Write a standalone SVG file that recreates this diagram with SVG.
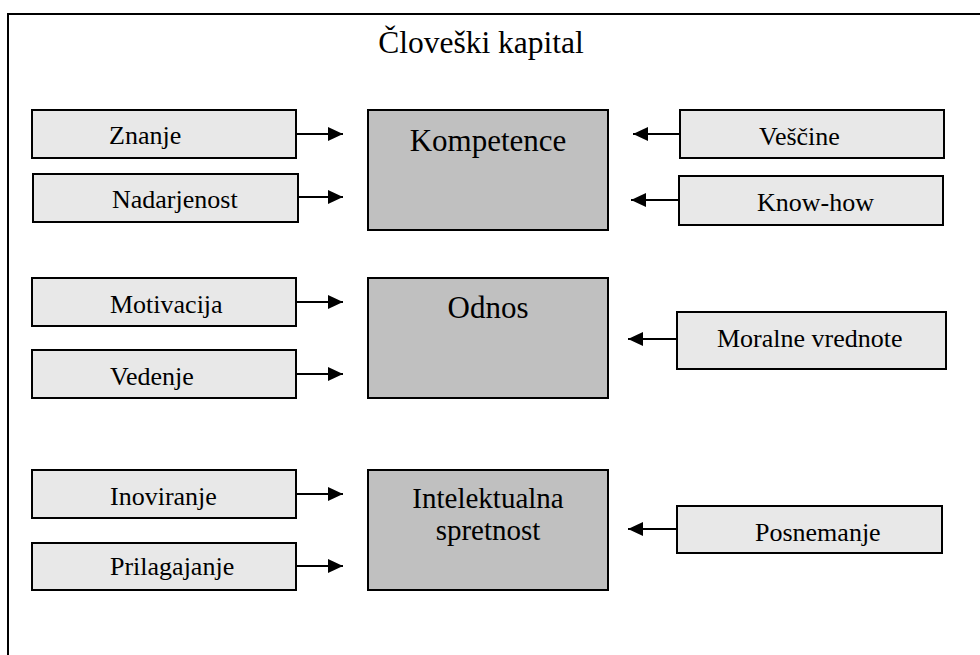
<svg xmlns="http://www.w3.org/2000/svg" width="980" height="655" viewBox="0 0 980 655" font-family="'Liberation Serif', 'Times New Roman', 'DejaVu Serif', serif">
  <defs>
    <style>
      .frame { fill: none; stroke: #000; stroke-width: 2; }
      .item rect { fill: #e8e8e8; stroke: #000; stroke-width: 2; }
      .core rect { fill: #c0c0c0; stroke: #000; stroke-width: 2; }
      text { font-family: 'Liberation Serif', 'Times New Roman', 'DejaVu Serif', serif; fill: #000; }
      .item text { font-size: 26px; }
      .core text { font-size: 31px; text-anchor: middle; }
      .title { font-size: 31.5px; text-anchor: middle; }
      .conn line { stroke: #000; stroke-width: 2; }
    </style>
    <marker id="head" markerWidth="15" markerHeight="14" refX="15" refY="7" orient="auto" markerUnits="userSpaceOnUse">
      <path d="M0,0 L15,7 L0,14 Z" fill="#000"/>
    </marker>
  </defs>

  <rect width="980" height="655" fill="#fff"/>

  <!-- outer frame (open on the right and bottom) -->
  <path class="frame" d="M8,655 V14 H980"/>

  <text class="title" x="481" y="53">Človeški kapital</text>

  <!-- left inputs -->
  <g id="znanje" class="item"><rect x="32" y="110" width="264" height="48"/><text x="109" y="144">Znanje</text></g>
  <g id="nadarjenost" class="item"><rect x="33" y="174" width="265" height="48"/><text x="112" y="208">Nadarjenost</text></g>
  <g id="motivacija" class="item"><rect x="32" y="278" width="264" height="48"/><text x="110" y="313">Motivacija</text></g>
  <g id="vedenje" class="item"><rect x="32" y="350" width="264" height="48"/><text x="110" y="385">Vedenje</text></g>
  <g id="inoviranje" class="item"><rect x="32" y="470" width="264" height="48"/><text x="110" y="505">Inoviranje</text></g>
  <g id="prilagajanje" class="item"><rect x="32" y="543" width="264" height="47"/><text x="110" y="575">Prilagajanje</text></g>

  <!-- central categories -->
  <g id="kompetence" class="core"><rect x="368" y="110" width="240" height="120"/><text x="488" y="151">Kompetence</text></g>
  <g id="odnos" class="core"><rect x="368" y="278" width="240" height="120"/><text x="488" y="318">Odnos</text></g>
  <g id="intelektualna" class="core"><rect x="368" y="470" width="240" height="120"/>
    <text x="488" y="508" style="font-size:29px">Intelektualna</text>
    <text x="488" y="540" style="font-size:29px">spretnost</text>
  </g>

  <!-- right inputs -->
  <g id="vescine" class="item"><rect x="680" y="110" width="264" height="48"/><text x="759" y="145">Veščine</text></g>
  <g id="knowhow" class="item"><rect x="679" y="176" width="264" height="49"/><text x="757" y="211">Know-how</text></g>
  <g id="moralne" class="item"><rect x="677" y="312" width="269" height="57"/><text x="717" y="347">Moralne vrednote</text></g>
  <g id="posnemanje" class="item"><rect x="677" y="506" width="265" height="47"/><text x="755" y="541">Posnemanje</text></g>

  <!-- connectors -->
  <g id="connectors" class="conn">
    <line x1="296" y1="134" x2="343" y2="134" marker-end="url(#head)"/>
    <line x1="298" y1="197" x2="343" y2="197" marker-end="url(#head)"/>
    <line x1="296" y1="302" x2="343" y2="302" marker-end="url(#head)"/>
    <line x1="296" y1="374" x2="343" y2="374" marker-end="url(#head)"/>
    <line x1="296" y1="494" x2="343" y2="494" marker-end="url(#head)"/>
    <line x1="296" y1="566" x2="343" y2="566" marker-end="url(#head)"/>
    <line x1="680" y1="134" x2="633" y2="134" marker-end="url(#head)"/>
    <line x1="679" y1="200" x2="631" y2="200" marker-end="url(#head)"/>
    <line x1="677" y1="339" x2="628" y2="339" marker-end="url(#head)"/>
    <line x1="677" y1="529" x2="628" y2="529" marker-end="url(#head)"/>
  </g>
</svg>
